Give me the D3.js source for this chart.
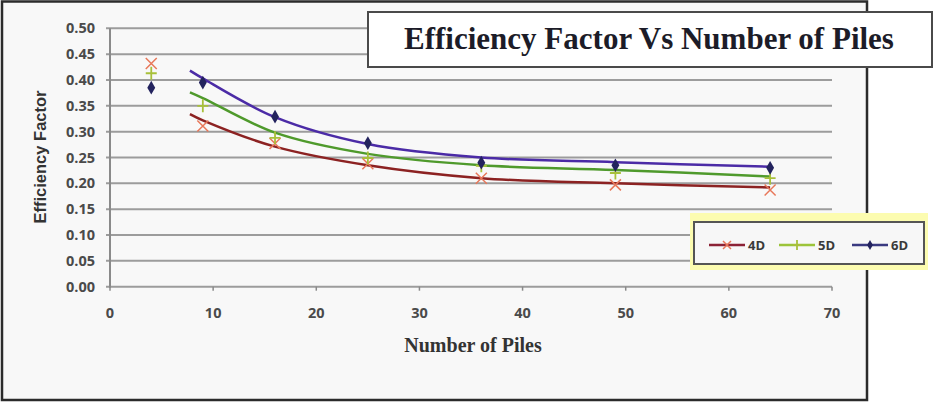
<!DOCTYPE html>
<html>
<head>
<meta charset="utf-8">
<script src="https://cdn.jsdelivr.net/npm/d3@7"></script>
<style>
	body { margin: 0; background: #ffffff; }
</style>
</head>
<body>
<div id="chart"></div>
<script>
// data
var piles = [4, 9, 16, 25, 36, 49, 64];
var series = ["4D", "5D", "6D"];
var values4D = [0.432, 0.311, 0.277, 0.238, 0.210, 0.197, 0.187];
var values5D = [0.413, 0.350, 0.288, 0.249, 0.234, 0.220, 0.210];
var values6D = [0.385, 0.395, 0.329, 0.278, 0.240, 0.235, 0.230];

// trend curves as they appear in the picture
var trendX = [7.75, 9, 16, 25, 36, 49, 64];
var trend4D = [0.334, 0.322, 0.271, 0.235, 0.210, 0.200, 0.192];
var trend5D = [0.376, 0.365, 0.298, 0.257, 0.235, 0.226, 0.213];
var trend6D = [0.418, 0.403, 0.328, 0.276, 0.250, 0.241, 0.232];

var xTicks = [0, 10, 20, 30, 40, 50, 60, 70];
var yTicks = [0, 0.05, 0.10, 0.15, 0.20, 0.25, 0.30, 0.35, 0.40, 0.45, 0.50];

var W = 935, H = 411;

var svg = d3.select("#chart")
	.append("svg")
	.attr("width", W)
	.attr("height", H);

// outer frame
svg.append("rect")
	.attr("x", 2).attr("y", 1.5)
	.attr("width", 865).attr("height", 398.5)
	.attr("fill", "#f8f8f8")
	.attr("stroke", "#2b2b2b")
	.attr("stroke-width", 2.5);

// scales
var xScale = d3.scaleLinear().domain([0, 70]).range([110, 832]);
var yScale = d3.scaleLinear().domain([0, 0.5]).range([286.7, 28.3]);

// gridlines
svg.append("g")
	.selectAll("line")
	.data(yTicks)
	.enter()
	.append("line")
	.attr("x1", xScale(0) - 4)
	.attr("x2", xScale(70))
	.attr("y1", function(d) { return yScale(d); })
	.attr("y2", function(d) { return yScale(d); })
	.attr("stroke", "#9c9c9c")
	.attr("stroke-width", 2);

// y axis line
svg.append("line")
	.attr("x1", xScale(0)).attr("x2", xScale(0))
	.attr("y1", yScale(0.5)).attr("y2", yScale(0) + 1)
	.attr("stroke", "#8a8a8a")
	.attr("stroke-width", 2);

// x ticks
svg.append("g")
	.selectAll("line")
	.data(xTicks)
	.enter()
	.append("line")
	.attr("x1", function(d) { return xScale(d); })
	.attr("x2", function(d) { return xScale(d); })
	.attr("y1", yScale(0))
	.attr("y2", yScale(0) + 4)
	.attr("stroke", "#8a8a8a")
	.attr("stroke-width", 1.5);

// tick labels
svg.append("g")
	.selectAll("text")
	.data(yTicks)
	.enter()
	.append("text")
	.attr("x", 95)
	.attr("y", function(d) { return yScale(d) + 5; })
	.attr("text-anchor", "end")
	.attr("font-family", "Open Sans")
	.attr("font-weight", 700)
	.attr("font-size", "14.5px")
	.attr("fill", "#4a4a4a")
	.text(function(d) { return d3.format(".2f")(d); });

svg.append("g")
	.selectAll("text")
	.data(xTicks)
	.enter()
	.append("text")
	.attr("x", function(d) { return xScale(d); })
	.attr("y", 318)
	.attr("text-anchor", "middle")
	.attr("font-family", "Open Sans")
	.attr("font-weight", 700)
	.attr("font-size", "14.5px")
	.attr("fill", "#4a4a4a")
	.text(function(d) { return d; });

// axis titles
svg.append("text")
	.attr("x", 473).attr("y", 352)
	.attr("text-anchor", "middle")
	.attr("font-family", "Liberation Serif")
	.attr("font-weight", "bold")
	.attr("font-size", "20px")
	.attr("fill", "#333333")
	.text("Number of Piles");

svg.append("text")
	.attr("transform", "translate(46,157) rotate(-90)")
	.attr("text-anchor", "middle")
	.attr("font-family", "Liberation Sans")
	.attr("font-weight", "bold")
	.attr("font-size", "16.5px")
	.attr("fill", "#333333")
	.text("Efficiency Factor");

var ColourMap = {"4D": "#8c2222", "5D": "#4f9a2c", "6D": "#4b2ba6"};
var MarkerMap = {"4D": "#e8785a", "5D": "#a8c03a", "6D": "#23235e"};
var ValueMap = {"4D": values4D, "5D": values5D, "6D": values6D};
var TrendMap = {"4D": trend4D, "5D": trend5D, "6D": trend6D};

var line = d3.line()
	.x(function(d) { return xScale(d[0]); })
	.y(function(d) { return yScale(d[1]); })
	.curve(d3.curveCatmullRom.alpha(0.5));

// trend curves
series.forEach(function(s) {
	svg.append("path")
		.datum(trendX.map(function(x, i) { return [x, TrendMap[s][i]]; }))
		.attr("d", line)
		.attr("fill", "none")
		.attr("stroke", ColourMap[s])
		.attr("stroke-width", 2.5);
});

// markers
function drawMarker(g, s, cx, cy, r) {
	if (s === "4D") {
		g.append("path")
			.attr("d", "M" + (cx - r) + "," + (cy - r) + "L" + (cx + r) + "," + (cy + r) +
				"M" + (cx - r) + "," + (cy + r) + "L" + (cx + r) + "," + (cy - r))
			.attr("stroke", MarkerMap[s])
			.attr("stroke-width", 1.5)
			.attr("fill", "none");
	} else if (s === "5D") {
		g.append("path")
			.attr("d", "M" + (cx - r) + "," + cy + "L" + (cx + r) + "," + cy +
				"M" + cx + "," + (cy - r - 1) + "L" + cx + "," + (cy + r + 1))
			.attr("stroke", MarkerMap[s])
			.attr("stroke-width", 1.8)
			.attr("fill", "none");
	} else {
		g.append("path")
			.attr("d", d3.symbol().type(d3.symbolDiamond).size(r * r * 1.8)())
			.attr("transform", "translate(" + cx + "," + cy + ")")
			.attr("fill", MarkerMap[s]);
	}
}

var markers = svg.append("g");
series.forEach(function(s) {
	piles.forEach(function(p, i) {
		drawMarker(markers, s, xScale(p), yScale(ValueMap[s][i]), 5.5);
	});
});

// title box
svg.append("rect")
	.attr("x", 368).attr("y", 12)
	.attr("width", 564).attr("height", 55)
	.attr("fill", "#ffffff")
	.attr("stroke", "#4a4a4a")
	.attr("stroke-width", 2);

svg.append("text")
	.attr("x", 649).attr("y", 49)
	.attr("text-anchor", "middle")
	.attr("font-family", "Liberation Serif")
	.attr("font-weight", "bold")
	.attr("font-size", "31px")
	.attr("fill", "#1c1c28")
	.text("Efficiency Factor Vs Number of Piles");

// legend
svg.append("rect")
	.attr("x", 690).attr("y", 213)
	.attr("width", 238).attr("height", 57)
	.attr("fill", "#fcfcb0");

svg.append("rect")
	.attr("x", 694).attr("y", 222)
	.attr("width", 230).attr("height", 42)
	.attr("fill", "#f7f7f7")
	.attr("stroke", "#555555")
	.attr("stroke-width", 2);

var legendX = {"4D": 709, "5D": 779, "6D": 852};
series.forEach(function(s) {
	var lx = legendX[s];
	svg.append("line")
		.attr("x1", lx).attr("x2", lx + 36)
		.attr("y1", 245).attr("y2", 245)
		.attr("stroke", s === "5D" ? "#9cc43a" : (s === "4D" ? "#8c2236" : "#3a3a80"))
		.attr("stroke-width", 2.5);
	drawMarker(svg, s, lx + 18, 245, 4);
	svg.append("text")
		.attr("x", lx + 39).attr("y", 250)
		.attr("font-family", "Open Sans")
		.attr("font-weight", 700)
		.attr("font-size", "13px")
		.attr("fill", "#3a3a3a")
		.text(s);
});
</script>
</body>
</html>
